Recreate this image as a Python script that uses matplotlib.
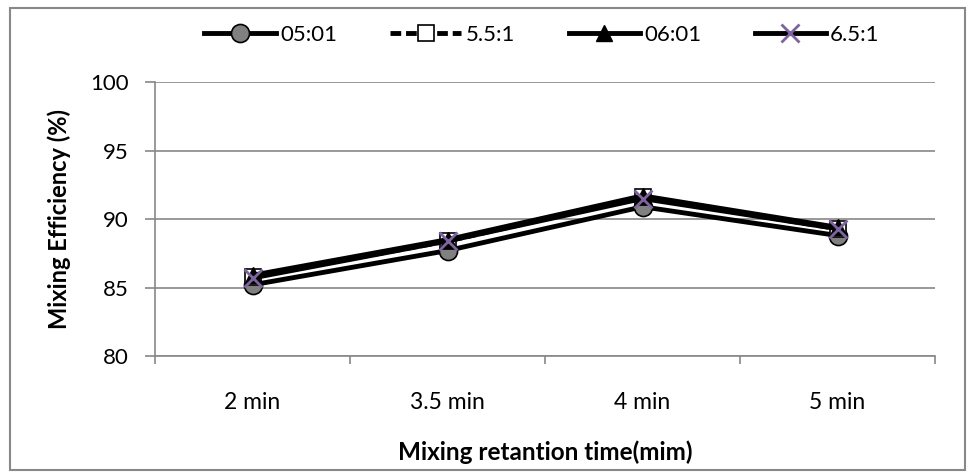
import matplotlib.pyplot as plt
from matplotlib.patches import Rectangle

plt.rcParams['font.family'] = ['Lato', 'DejaVu Sans']

# retention time categories and mixing efficiency (%) per ratio
times = ['2 min', '3.5 min', '4 min', '5 min']
ratio_5 = [85.2, 87.7, 90.9, 88.8]
ratio_5_5 = [85.8, 88.4, 91.6, 89.3]
ratio_6 = [85.9, 88.5, 91.7, 89.4]
ratio_6_5 = [85.7, 88.4, 91.5, 89.3]

fig = plt.figure(figsize=(9.75, 4.75), dpi=100)
ax = fig.add_axes([0.159, 0.2505, 0.8, 0.5765])

x = range(len(times))
lw = 3.5
ax.plot(x, ratio_5, color='black', lw=lw, marker='o', ms=13,
        mfc='#808080', mec='black', mew=1.2, label='05:01', zorder=3)
ax.plot(x, ratio_5_5, color='black', lw=lw, ls=(0, (2.2, 1)), marker='s', ms=11,
        mfc='white', mec='black', mew=1.2, label='5.5:1', zorder=4)
ax.plot(x, ratio_6, color='black', lw=lw, marker='^', ms=12,
        mfc='black', mec='black', label='06:01', zorder=5)
ax.plot(x, ratio_6_5, color='black', lw=lw, marker='x', ms=12.5,
        mec='#7E649E', mew=2, label='6.5:1', zorder=6)

ax.set_xlim(-0.5, len(times) - 0.5)
ax.set_ylim(80, 100)
ax.set_yticks([80, 85, 90, 95, 100])
ax.set_xticks(list(x))
ax.set_xticklabels(times)
ax.set_xticks([i - 0.5 for i in range(len(times) + 1)], minor=True)
ax.tick_params(axis='x', which='major', length=0, pad=26, labelsize=16.5)
ax.tick_params(axis='x', which='minor', length=6, color='#888888', width=1.2)
ax.tick_params(axis='y', length=7, color='#888888', width=1.2, labelsize=16, pad=12)

ax.grid(axis='y', color='#888888', lw=1.2)
ax.set_axisbelow(True)
for side in ['top', 'right']:
    ax.spines[side].set_visible(False)
for side in ['left', 'bottom']:
    ax.spines[side].set_color('#888888')
    ax.spines[side].set_linewidth(1.2)

ax.set_ylabel('Mixing Efficiency (%)', fontsize=17, fontweight='bold', labelpad=14)
ax.set_xlabel('Mixing retantion time(mim)', fontsize=17.5, fontweight='bold', labelpad=20)

fig.legend(loc='center', bbox_to_anchor=(0.556, 0.926), ncol=4, frameon=False,
           fontsize=16, handlelength=3.2, columnspacing=2.4, handletextpad=0.2)

# chart border
fig.patches.append(Rectangle((10 / 975, 5 / 475), 955 / 975, 462 / 475,
                             transform=fig.transFigure, fill=False,
                             ec='#888888', lw=1.5))

fig.savefig('out.png', dpi=100)
